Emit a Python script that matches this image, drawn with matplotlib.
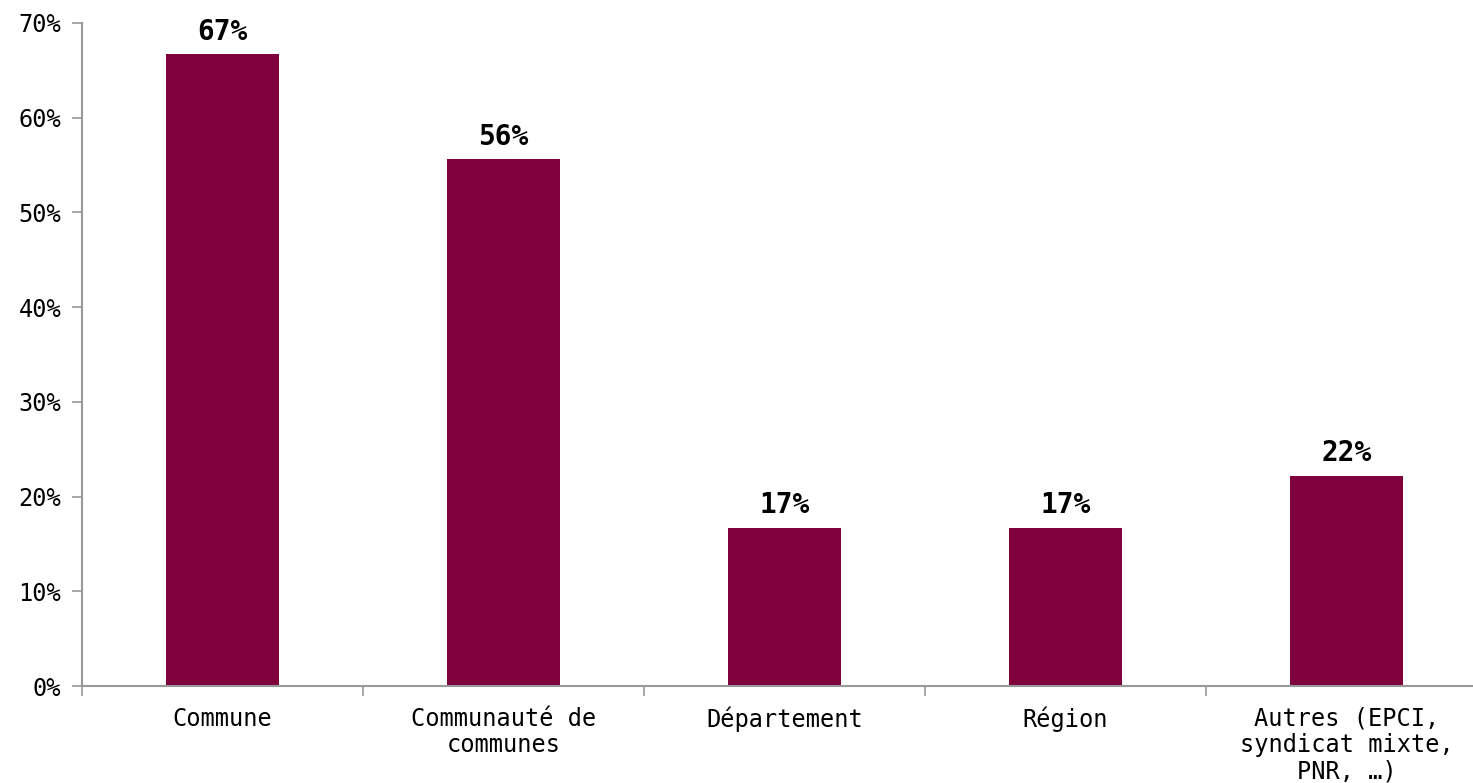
import numpy as np
import matplotlib.pyplot as plt
from matplotlib.ticker import PercentFormatter

# données
categories = ['Commune', 'Communauté de\ncommunes', 'Département', 'Région',
              'Autres (EPCI,\nsyndicat mixte,\nPNR, …)']
values = [66.7, 55.6, 16.7, 16.7, 22.2]
labels = ['67%', '56%', '17%', '17%', '22%']

plt.rcParams['font.family'] = ['DejaVu Sans Mono']

fig = plt.figure(figsize=(14.73, 7.83), dpi=100)
ax = fig.add_axes([82 / 1473, 97 / 783, 1391 / 1473, 663 / 783])

x = np.arange(len(categories))
bars = ax.bar(x, values, width=0.4, color='#7f003c')

for b, lab in zip(bars, labels):
    ax.text(b.get_x() + b.get_width() / 2, b.get_height() + 0.9, lab,
            ha='center', va='bottom', fontsize=20, fontweight='bold')

ax.set_yticks(np.arange(0, 71, 10))
ax.yaxis.set_major_formatter(PercentFormatter(decimals=0))

# étiquettes centrées, traits entre catégories
ax.set_xticks(x)
ax.set_xticklabels(categories, fontsize=17, linespacing=1.12)
ax.set_xticks(np.arange(-0.5, 4.0, 1), minor=True)
ax.tick_params(axis='x', which='major', length=0, pad=15)
ax.tick_params(axis='x', which='minor', length=7, color='#999999', width=1.2)
ax.tick_params(axis='y', labelsize=17, length=7, color='#999999', width=1.2, pad=8)

# limites après set_xticks (sinon elles sont élargies)
ax.set_ylim(0, 70)
ax.set_xlim(-0.5, 4.45)

for s in ['top', 'right']:
    ax.spines[s].set_visible(False)
for s in ['left', 'bottom']:
    ax.spines[s].set_color('#999999')
    ax.spines[s].set_linewidth(1.5)

plt.savefig('out.png', dpi=100)
